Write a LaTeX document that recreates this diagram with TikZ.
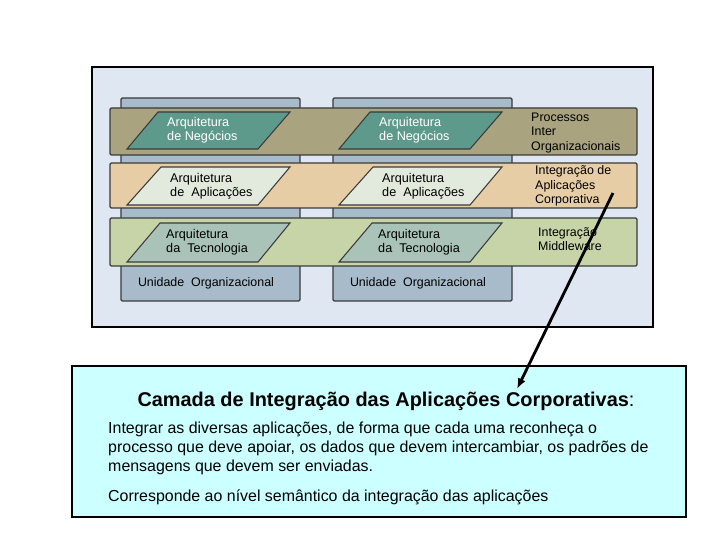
\documentclass[tikz,border=0pt]{standalone}
\usepackage{fontspec}
\setmainfont{Liberation Sans}
\usetikzlibrary{arrows.meta}

\definecolor{panelbg}{HTML}{DFE8F2}
\definecolor{unitblue}{HTML}{A8BBCA}
\definecolor{framegray}{HTML}{3A3A3A}
\definecolor{bandbiz}{HTML}{A9A47F}
\definecolor{bandapp}{HTML}{E6CDA5}
\definecolor{bandtec}{HTML}{C6D4A8}
\definecolor{parbiz}{HTML}{5E9A8C}
\definecolor{parapp}{HTML}{E2EADD}
\definecolor{partec}{HTML}{A9C3B9}
\definecolor{infobg}{HTML}{CCFFFF}

\tikzset{
  unitbox/.style={draw=framegray, fill=unitblue, line width=1.1pt, rounded corners=1pt},
  band/.style={draw=framegray, line width=1.1pt, rounded corners=1pt},
  parbox/.style={draw=framegray, line width=0.9pt},
  lbl/.style={font=\fontsize{10.8}{12.2}\selectfont, align=left, anchor=west, inner sep=0pt},
  sidelbl/.style={font=\fontsize{10.6}{12.6}\selectfont, align=left, anchor=west, inner sep=0pt}
}

\begin{document}
\begin{tikzpicture}[x=0.03cm,y=-0.03cm]
\useasboundingbox (0,0) rectangle (720,540);

%%% PANEL %%%
\draw[fill=panelbg, draw=black, line width=1.6pt] (92,67) rectangle (653,327);

%%% UNIT COLUMNS %%%
\foreach \dx/\c in {0/1,212/2}{
\draw[unitbox] (121+\dx,98) rectangle (300+\dx,301);
\node[font=\fontsize{10.6}{12}\selectfont] (unit\c) at (206+\dx,283) {Unidade\ \ Organizacional};
}

%%% BANDS %%%
\draw[band, fill=bandbiz] (110,108) rectangle (637,155);
\draw[band, fill=bandapp] (110,163) rectangle (637,208);
\draw[band, fill=bandtec] (110,218) rectangle (637,266);

%%% PARALLELOGRAMS %%%
\foreach \dx/\c in {0/1,212/2}{
\draw[parbox, fill=parbiz] (158+\dx,112) -- (290+\dx,112) -- (258+\dx,149) -- (127+\dx,149) -- cycle;
\draw[parbox, fill=parapp] (161+\dx,167) -- (290+\dx,167) -- (258+\dx,205) -- (127+\dx,205) -- cycle;
\draw[parbox, fill=partec] (160+\dx,223) -- (290+\dx,223) -- (258+\dx,262) -- (127+\dx,262) -- cycle;

\node[lbl, text=white] (biz\c) at (167+\dx,130) {Arquitetura\\de Negócios};
\node[lbl] (app\c) at (170+\dx,186) {Arquitetura\\de\ \ Aplicações};
\node[lbl] (tec\c) at (166+\dx,242) {Arquitetura\\da\ \ Tecnologia};
}

%%% SIDE LABELS %%%
\node[sidelbl] (procinter) at (531,133) {Processos\\Inter\\Organizacionais};
\node[sidelbl] (intapl) at (535,186) {Integração de\\Aplicações\\Corporativa};
\node[sidelbl] (intmid) at (538,239) {Integração\\Middleware};

%%% INFO BOX %%%
\draw[fill=infobg, draw=black, line width=1.6pt] (72,366) rectangle (686,517);
\node[font=\bfseries\fontsize{17}{20}\selectfont] (title) at (386,401)
  {Camada de Integração das Aplicações Corporativas{\mdseries:}};
\node[anchor=north west, align=left, inner sep=0pt, font=\fontsize{13.6}{16.2}\selectfont] (goal) at (108,422)
  {Integrar as diversas aplicações, de forma que cada uma reconheça o\\
   processo que deve apoiar, os dados que devem intercambiar, os padrões de\\
   mensagens que devem ser enviadas.};
\node[anchor=west, inner sep=0pt, font=\fontsize{13.6}{16.2}\selectfont] (level) at (108,497)
  {Corresponde ao nível semântico da integração das aplicações};

%%% ARROW %%%
\coordinate (arrtail) at (613,193);
\coordinate (arrtip) at (517,389);
\draw[line width=2.4pt, -{Latex[length=9pt,width=7pt]}] (arrtail) -- (arrtip);

\end{tikzpicture}
\end{document}
